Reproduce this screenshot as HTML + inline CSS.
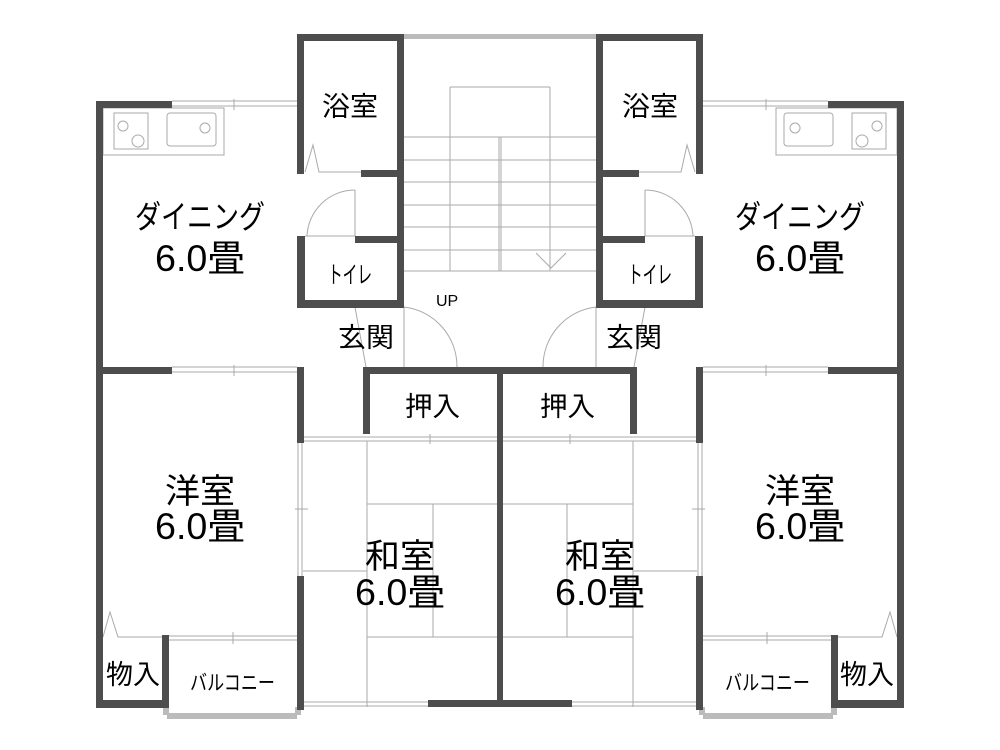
<!DOCTYPE html>
<html><head><meta charset="utf-8"><style>
html,body{margin:0;padding:0;background:#fff;width:1000px;height:750px;overflow:hidden}
svg{display:block}
text{font-family:"Liberation Sans","Noto Sans CJK JP",sans-serif;fill:#000}
</style></head><body>
<svg width="1000" height="750" viewBox="0 0 1000 750" xmlns="http://www.w3.org/2000/svg">
<defs>
<g id="half">
 <g stroke="#aaa" stroke-width="1" fill="none">
  <line x1="172" y1="101" x2="297" y2="101"/><line x1="172" y1="106" x2="297" y2="106"/>
  <line x1="234" y1="99" x2="234" y2="110"/>
  <rect x="103" y="108" width="121" height="47"/>
  <rect x="114" y="113" width="34" height="36"/>
  <circle cx="123" cy="126" r="5"/><circle cx="138" cy="141" r="6"/>
  <rect x="167" y="113" width="49" height="33" rx="3"/>
  <circle cx="205" cy="128" r="5"/>
  <polyline points="305,172 313,145 319,172 361,172"/>
  <line x1="355" y1="190" x2="355" y2="236"/>
  <path d="M355,190 A48,48 0 0 0 307,236"/>
  <line x1="305" y1="236" x2="355" y2="236"/>
  <line x1="355" y1="307" x2="366" y2="367"/>
  <line x1="404" y1="307" x2="404" y2="367"/>
  <path d="M404,307 A60,60 0 0 1 457,367"/>
  <line x1="404" y1="137" x2="500" y2="137"/><line x1="404" y1="160" x2="500" y2="160"/>
  <line x1="404" y1="182" x2="500" y2="182"/><line x1="404" y1="205" x2="500" y2="205"/>
  <line x1="404" y1="227" x2="500" y2="227"/><line x1="404" y1="250" x2="500" y2="250"/>
  <line x1="404" y1="271" x2="500" y2="271"/>
  <line x1="450" y1="87" x2="450" y2="271"/><line x1="450" y1="87" x2="500" y2="87"/>
  <line x1="501" y1="137" x2="501" y2="271"/>
  <line x1="172" y1="367" x2="297" y2="367"/><line x1="172" y1="372" x2="297" y2="372"/>
  <line x1="234" y1="365" x2="234" y2="376"/>
  <line x1="298" y1="443" x2="298" y2="576"/><line x1="302" y1="443" x2="302" y2="576"/>
  <line x1="295" y1="509" x2="308" y2="509"/>
  <line x1="303" y1="437" x2="497" y2="437"/><line x1="303" y1="441" x2="497" y2="441"/>
  <line x1="430" y1="434" x2="430" y2="444"/>
  <line x1="367" y1="441" x2="367" y2="707"/>
  <line x1="433" y1="504" x2="433" y2="637"/>
  <line x1="367" y1="504" x2="497" y2="504"/>
  <line x1="367" y1="637" x2="497" y2="637"/>
  <line x1="303" y1="571" x2="367" y2="571"/>
  <polyline points="103,637 110,612 118,637 165,637"/>
  <line x1="168" y1="636" x2="297" y2="636"/><line x1="168" y1="640" x2="297" y2="640"/>
  <line x1="233" y1="632" x2="233" y2="644"/>
  <line x1="303" y1="702" x2="428" y2="702"/><line x1="303" y1="706" x2="428" y2="706"/>
 </g>
 <rect x="167" y="713" width="130" height="6" fill="#bbb"/>
 <rect x="163" y="707" width="6" height="8" fill="#bbb"/>
 <rect x="295" y="707" width="6" height="8" fill="#bbb"/>
 <rect x="404" y="34" width="96" height="5" fill="#bbb"/>
 <g fill="#4d4d4d">
  <rect x="96" y="101" width="7" height="607"/>
  <rect x="96" y="101" width="76" height="7"/>
  <rect x="297" y="34" width="7" height="140"/>
  <rect x="297" y="34" width="107" height="7"/>
  <rect x="397" y="34" width="7" height="274"/>
  <rect x="361" y="170" width="40" height="7"/>
  <rect x="297" y="236" width="8" height="72"/>
  <rect x="355" y="236" width="46" height="7"/>
  <rect x="297" y="300" width="107" height="8"/>
  <rect x="96" y="367" width="76" height="7"/>
  <rect x="297" y="367" width="7" height="76"/>
  <rect x="297" y="576" width="7" height="134"/>
  <rect x="96" y="700" width="72" height="8"/>
  <rect x="162" y="635" width="7" height="73"/>
  <rect x="363" y="367" width="137" height="7"/>
  <rect x="363" y="367" width="7" height="67"/>
  <rect x="497" y="367" width="6" height="340"/>
  <rect x="428" y="700" width="72" height="7"/>
 </g>
</g>
</defs>
<use href="#half"/>
<use href="#half" transform="translate(1000,0) scale(-1,1)"/>
<g stroke="#aaa" fill="none">
 <polyline points="536,253 551,268 566,253"/>
</g>
<g lengthAdjust="spacingAndGlyphs">
 <text x="322" y="116" font-size="27" textLength="56" lengthAdjust="spacingAndGlyphs">浴室</text>
 <text x="622" y="116" font-size="27" textLength="56" lengthAdjust="spacingAndGlyphs">浴室</text>
 <text x="135" y="228" font-size="32" textLength="130" lengthAdjust="spacingAndGlyphs">ダイニング</text>
 <text x="735" y="228" font-size="32" textLength="130" lengthAdjust="spacingAndGlyphs">ダイニング</text>
 <text x="155" y="271" font-size="37" textLength="90" lengthAdjust="spacingAndGlyphs">6.0畳</text>
 <text x="755" y="271" font-size="37" textLength="90" lengthAdjust="spacingAndGlyphs">6.0畳</text>
 <text x="328" y="283" font-size="24" textLength="44" lengthAdjust="spacingAndGlyphs">トイレ</text>
 <text x="628" y="283" font-size="24" textLength="44" lengthAdjust="spacingAndGlyphs">トイレ</text>
 <text x="436" y="306" font-size="16">UP</text>
 <text x="338" y="347" font-size="27" textLength="56" lengthAdjust="spacingAndGlyphs">玄関</text>
 <text x="606" y="347" font-size="27" textLength="56" lengthAdjust="spacingAndGlyphs">玄関</text>
 <text x="405" y="416" font-size="27" textLength="55" lengthAdjust="spacingAndGlyphs">押入</text>
 <text x="540" y="416" font-size="27" textLength="55" lengthAdjust="spacingAndGlyphs">押入</text>
 <text x="165" y="503" font-size="34" textLength="70" lengthAdjust="spacingAndGlyphs">洋室</text>
 <text x="765" y="503" font-size="34" textLength="70" lengthAdjust="spacingAndGlyphs">洋室</text>
 <text x="155" y="539" font-size="37" textLength="90" lengthAdjust="spacingAndGlyphs">6.0畳</text>
 <text x="755" y="539" font-size="37" textLength="90" lengthAdjust="spacingAndGlyphs">6.0畳</text>
 <text x="365" y="568" font-size="34" textLength="70" lengthAdjust="spacingAndGlyphs">和室</text>
 <text x="565" y="568" font-size="34" textLength="70" lengthAdjust="spacingAndGlyphs">和室</text>
 <text x="355" y="605" font-size="37" textLength="90" lengthAdjust="spacingAndGlyphs">6.0畳</text>
 <text x="555" y="605" font-size="37" textLength="90" lengthAdjust="spacingAndGlyphs">6.0畳</text>
 <text x="106" y="684" font-size="27" textLength="54" lengthAdjust="spacingAndGlyphs">物入</text>
 <text x="840" y="684" font-size="27" textLength="54" lengthAdjust="spacingAndGlyphs">物入</text>
 <text x="190" y="690" font-size="21" textLength="85" lengthAdjust="spacingAndGlyphs">バルコニー</text>
 <text x="725" y="690" font-size="21" textLength="85" lengthAdjust="spacingAndGlyphs">バルコニー</text>
</g>
</svg>
</body></html>
